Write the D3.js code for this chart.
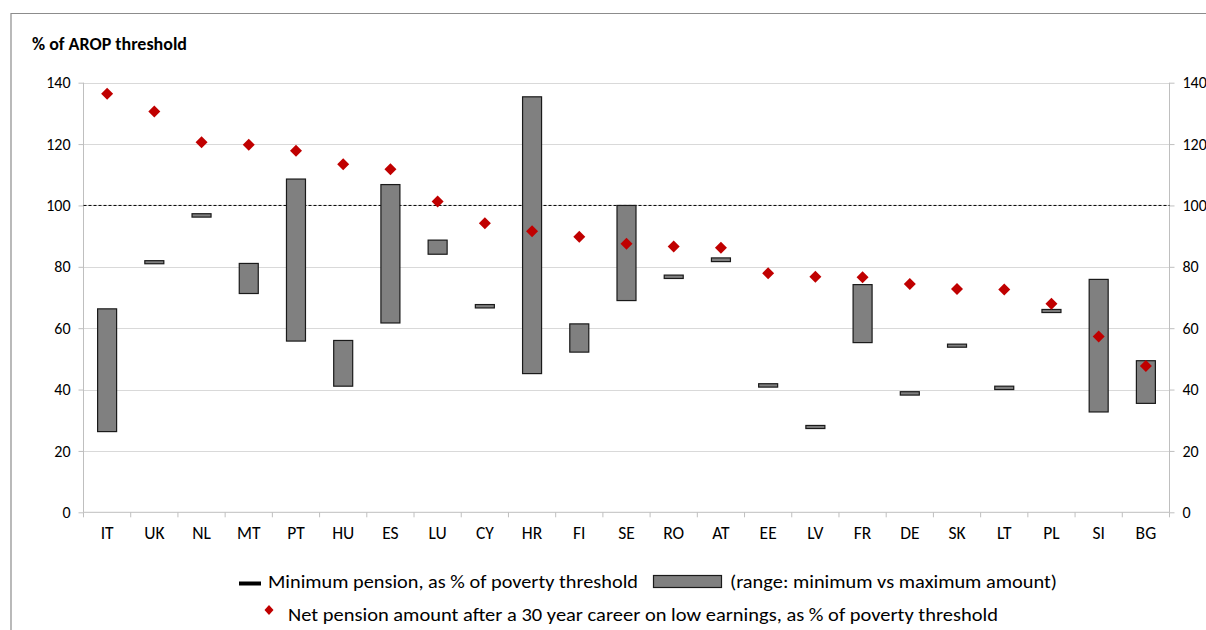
<!DOCTYPE html>
<html><head><meta charset="utf-8">
<script src="https://cdn.jsdelivr.net/npm/d3@7"></script>
<style>
body{margin:0;background:#fff;}
text{font-family:Carlito,Lato,"Open Sans",sans-serif;}
.yt text{font-size:16px;}
.xt text{font-size:17.5px;}
</style></head>
<body><svg id="c" width="1206" height="630"></svg>
<script>
const categories = ["IT","UK","NL","MT","PT","HU","ES","LU","CY","HR","FI","SE","RO","AT","EE","LV","FR","DE","SK","LT","PL","SI","BG"];
const rangeMin = [26.3,81.0,96.2,71.3,55.8,41.1,61.7,84.1,66.6,45.2,52.2,69.0,76.2,81.7,40.8,27.3,55.3,38.2,53.8,40.0,65.1,32.7,35.5];
const rangeMax = [66.3,82.0,97.3,81.1,108.6,56.0,106.8,88.7,67.7,135.4,61.4,100.0,77.3,82.9,41.9,28.3,74.2,39.3,54.8,41.1,66.1,75.9,49.4];
const netPension = [136.4,130.6,120.6,119.8,117.8,113.4,111.8,101.3,94.2,91.6,89.8,87.5,86.6,86.2,77.9,76.8,76.6,74.4,72.8,72.6,68.0,57.3,47.7];
const yTicks = [0,20,40,60,80,100,120,140];
const referenceLine = 100;
const yTitle = "% of AROP threshold";
const legendLabels = ["Minimum pension, as % of poverty threshold","(range: minimum vs maximum amount)","Net pension amount after a 30 year career on low earnings, as % of poverty threshold"];

const svg = d3.select("#c");
const L = 83.5, R = 1169.5, T = 82.7, B = 512.3;
const x = d3.scaleBand().domain(categories).range([L, R]).paddingInner(0).paddingOuter(0);
const y = d3.scaleLinear().domain([0,140]).range([B, T]);

// outer frame
svg.append("path").attr("d", `M11,630 L11,13.5 L1206,13.5`).attr("fill","none").attr("stroke","#8c8c8c").attr("stroke-width",1.2);

// title
svg.append("text").attr("x",32).attr("y",50).attr("font-size",18).attr("font-weight","bold").attr("fill","#000")
  .attr("textLength",155).attr("lengthAdjust","spacingAndGlyphs").text(yTitle);

// gridlines
svg.append("g").selectAll("line").data(yTicks.filter(d=>d>0)).join("line")
  .attr("x1",L).attr("x2",R).attr("y1",d=>Math.round(y(d))+0.5).attr("y2",d=>Math.round(y(d))+0.5)
  .attr("stroke","#d9d9d9").attr("stroke-width",1);

// left axis
const la = svg.append("g").attr("class","yt").attr("transform",`translate(${L},0)`)
  .call(d3.axisLeft(y).tickValues(yTicks).tickSize(5).tickPadding(8));
// right axis
const ra = svg.append("g").attr("class","yt").attr("transform",`translate(${R},0)`)
  .call(d3.axisRight(y).tickValues(yTicks).tickSize(5).tickPadding(8));
// bottom axis
const ba = svg.append("g").attr("class","xt").attr("transform",`translate(0,${B})`)
  .call(d3.axisBottom(x).tickSize(0).tickPadding(14));
// category separators ticks
svg.append("g").selectAll("line").data(d3.range(categories.length+1)).join("line")
  .attr("x1",i=>L + i*x.bandwidth()).attr("x2",i=>L + i*x.bandwidth())
  .attr("y1",B).attr("y2",B+5).attr("stroke","#bfbfbf");

[la,ra,ba].forEach(g=>{
  g.selectAll(".domain").attr("stroke","#bfbfbf");
  g.selectAll(".tick line").attr("stroke","#bfbfbf");
  g.selectAll("text").attr("fill","#000");
});
la.select(".domain").attr("d",`M0,${B}V${T}`);
ra.select(".domain").attr("d",`M0,${B}V${T}`);
ba.select(".domain").attr("d",`M${L},0H${R}`);

// reference dashed line
svg.append("line").attr("x1",L).attr("x2",R).attr("y1",y(referenceLine)).attr("y2",y(referenceLine))
  .attr("stroke","#000").attr("stroke-width",1).attr("stroke-dasharray","3,2");

// range bars
const bw = 19;
svg.append("g").selectAll("rect").data(categories).join("rect")
  .attr("x",(d)=>x(d)+x.bandwidth()/2-bw/2)
  .attr("y",(d,i)=>y(rangeMax[i]))
  .attr("width",bw)
  .attr("height",(d,i)=>Math.max(2.5,y(rangeMin[i])-y(rangeMax[i])))
  .attr("fill","#808080").attr("stroke","#1a1a1a").attr("stroke-width",1.2);

// diamonds
const ds = 6;
svg.append("g").selectAll("path").data(categories).join("path")
  .attr("d",(d,i)=>{const cx=x(d)+x.bandwidth()/2, cy=y(netPension[i]);return `M${cx},${cy-ds}L${cx+ds},${cy}L${cx},${cy+ds}L${cx-ds},${cy}Z`;})
  .attr("fill","#c00000");

// legend
const lg = svg.append("g");
lg.append("rect").attr("x",239).attr("y",581.5).attr("width",22).attr("height",4).attr("fill","#000");
lg.append("text").attr("x",268).attr("y",588).attr("font-size",19).attr("fill","#000")
  .attr("textLength",370).attr("lengthAdjust","spacingAndGlyphs").text(legendLabels[0]);
lg.append("rect").attr("x",653.5).attr("y",575.5).attr("width",68).attr("height",12).attr("fill","#808080").attr("stroke","#1a1a1a").attr("stroke-width",1.2);
lg.append("text").attr("x",730).attr("y",588).attr("font-size",19).attr("fill","#000")
  .attr("textLength",327).attr("lengthAdjust","spacingAndGlyphs").text(legendLabels[1]);
lg.append("path").attr("d","M269,605L273.5,610L269,615L264.5,610Z").attr("fill","#c00000");
lg.append("text").attr("x",288).attr("y",621).attr("font-size",19).attr("fill","#000")
  .attr("textLength",710).attr("lengthAdjust","spacingAndGlyphs").text(legendLabels[2]);
</script></body></html>
